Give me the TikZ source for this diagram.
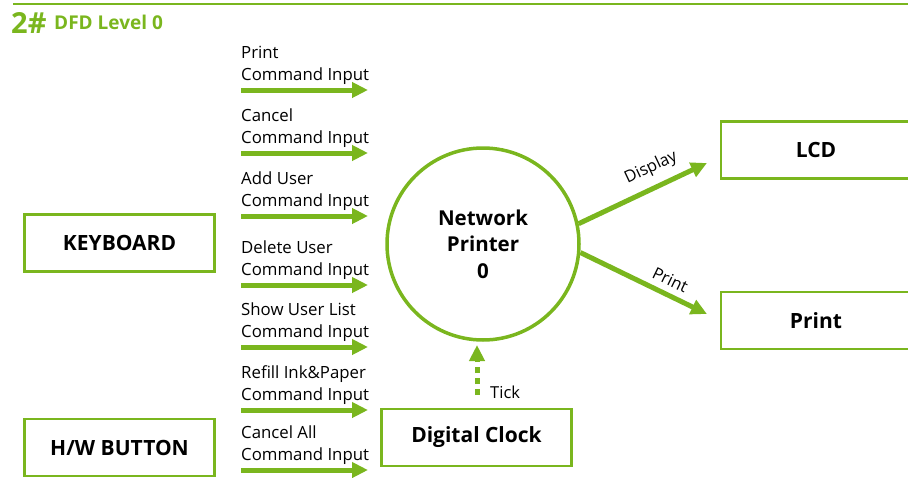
\documentclass[tikz,border=0pt]{standalone}
\usepackage{fontspec}
\setmainfont{Open Sans}
\usetikzlibrary{arrows.meta}
\definecolor{dfdgreen}{RGB}{122,182,30}
\tikzset{
  entity/.style={draw=dfdgreen,line width=2.5pt,minimum width=190pt,minimum height=57pt,inner sep=0pt,
    font=\fontsize{21}{23}\selectfont\bfseries},
  proc/.style={circle,draw=dfdgreen,line width=3.5pt,minimum size=192pt,inner sep=0pt,align=center,
    font=\fontsize{20.5}{26.5}\selectfont\bfseries},
  flow/.style={draw=dfdgreen,line width=5pt,-{Triangle[length=16pt,width=15pt]}},
  tickflow/.style={flow,dash pattern=on 6pt off 5pt},
  cmdlabel/.style={anchor=south west,inner sep=0pt,align=left,font=\fontsize{16.8}{22}\selectfont},
  flowlabel/.style={inner sep=0pt,font=\fontsize{16.5}{18}\selectfont}
}
\begin{document}
\begin{tikzpicture}[x=1pt,y=-1pt]
\useasboundingbox (0,0) rectangle (908,477);
% title
\draw[dfdgreen,line width=2pt] (13,4) -- (908,4);
\node[anchor=base west,inner sep=0pt,text=dfdgreen,font=\fontsize{29}{29}\selectfont\bfseries] (num) at (11,33) {2\#};
\node[anchor=base west,inner sep=0pt,text=dfdgreen,font=\fontsize{19}{19}\selectfont\bfseries] (title) at (54,29) {DFD Level 0};

% external entities
\node[entity] (keyboard) at (119.5,243) {KEYBOARD};
\node[entity] (hwbutton) at (119.5,447.5) {H/W BUTTON};
\node[entity] (lcd) at (816,150) {LCD};
\node[entity] (print) at (816,320.5) {Print};
\node[entity] (clock) at (476.5,437.5) {Digital Clock};

% process
\node[proc] (printer) at (483,244) {Network\\Printer\\0};

% command inputs
\foreach \y/\name [count=\i] in {90/Print,153/Cancel,216/Add User,285/Delete User,
    347/Show User List,410/Refill Ink\&Paper,470/Cancel All}{
  \coordinate (in\i s) at (241,\y);
  \coordinate (in\i e) at (368,\y);
  \draw[flow] (in\i s) -- (in\i e);
  \node[cmdlabel] (cmd\i) at (241,\y-5) {\name\\Command Input};
}

% outputs
\coordinate (lcdin) at (707,163);
\coordinate (printin) at (707,314);
\draw[flow] (printer.12.8) -- (lcdin)
  node[flowlabel,sloped,above=9pt,pos=0.63] (displaylab) {Display};
\draw[flow] (printer.-5.5) -- (printin)
  node[flowlabel,sloped,above=6pt,pos=0.66] (printlab) {Print};

% clock
\coordinate (ticks) at (477,395);
\coordinate (ticke) at (477,345);
\draw[tickflow] (ticks) -- (ticke);
\node[flowlabel,anchor=west] (ticklab) at (490,392) {Tick};
\end{tikzpicture}
\end{document}
